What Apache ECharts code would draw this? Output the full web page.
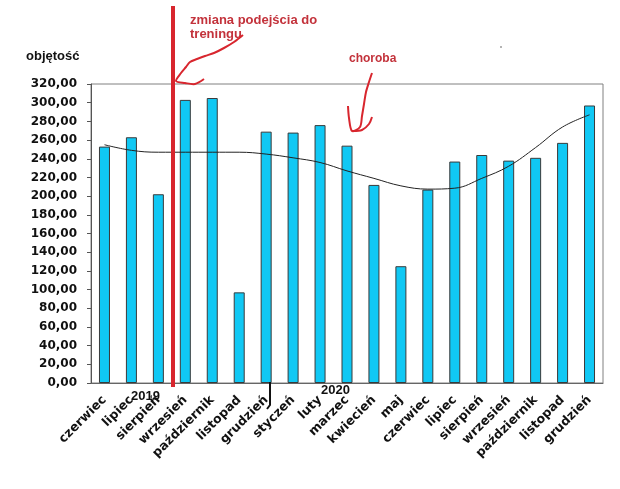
<!DOCTYPE html>
<html>
<head>
<meta charset="utf-8">
<script src="https://cdn.jsdelivr.net/npm/echarts@6/dist/echarts.min.js"></script>
<style>
* { margin: 0; padding: 0; }
#chart-container { width: 620px; height: 489px; background: #fff; }
</style>
</head>
<body>
<div id="chart-container"></div>
<script>
// miesiące: czerwiec 2019 .. grudzień 2020
const months = ['czerwiec', 'lipiec', 'sierpień', 'wrzesień', 'październik', 'listopad', 'grudzień',
  'styczeń', 'luty', 'marzec', 'kwiecień', 'maj',
  'czerwiec', 'lipiec', 'sierpień', 'wrzesień', 'październik', 'listopad', 'grudzień']
const volume = [253, 263, 202, 303, 305, 97, 269, 268, 276, 254, 212, 125, 207, 237, 244, 238, 241, 257, 297]
// linia trendu
const trend = [255, 249, 247, 247, 247, 247, 245, 241, 236, 227, 219, 211, 207.5, 208.5, 219, 232, 252, 274, 287]

const red = '#d8262e'
const redText = '#c3323b'
const bold = { fontWeight: 'bold', fontFamily: 'Liberation Sans', fontSize: 13, fill: '#111' }

const chart = echarts.init(document.getElementById('chart-container'))

chart.setOption({
  animation: false,
  grid: {
    left: 91,
    right: 17,
    top: 84,
    bottom: 106,
    show: true,
    borderColor: '#808080',
    borderWidth: 1
  },
  xAxis: {
    type: 'category',
    data: months,
    axisLine: { lineStyle: { color: '#666' } },
    axisTick: { show: false },
    axisLabel: {
      rotate: 45,
      interval: 0,
      margin: 15,
      color: '#111',
      fontWeight: 'bold',
      fontFamily: 'DejaVu Sans',
      fontSize: 12.5
    }
  },
  yAxis: {
    type: 'value',
    min: 0,
    max: 320,
    interval: 20,
    splitLine: { show: false },
    axisLine: { show: true, lineStyle: { color: '#555' } },
    axisTick: { show: true, length: 4, lineStyle: { color: '#555' } },
    axisLabel: {
      margin: 14,
      color: '#111',
      fontWeight: 'bold',
      fontFamily: 'DejaVu Sans',
      fontSize: 12,
      formatter: v => v.toFixed(2).replace('.', ',')
    }
  },
  series: [
    {
      type: 'bar',
      data: volume,
      barWidth: 11,
      itemStyle: { color: '#10c8f4', borderColor: '#3a3a3a', borderWidth: 1 }
    },
    {
      type: 'line',
      data: trend,
      smooth: 0.4,
      showSymbol: false,
      lineStyle: { color: '#222', width: 1 },
      z: 3
    }
  ],
  graphic: [
    { type: 'text', left: 26, top: 50, style: Object.assign({ text: 'objętość' }, bold) },
    { type: 'text', left: 131, top: 390, style: Object.assign({ text: '2019' }, bold) },
    { type: 'text', left: 321, top: 384, style: Object.assign({ text: '2020' }, bold) },
    // znacznik przełomu roku
    {
      type: 'polyline',
      shape: { points: [[270, 382], [270, 405], [267, 409]] },
      style: { stroke: '#111', lineWidth: 2, fill: null },
      z: 10
    },
    // czerwona linia: zmiana podejścia
    {
      type: 'line',
      shape: { x1: 173, y1: 6, x2: 173, y2: 387 },
      style: { stroke: red, lineWidth: 4 },
      z: 10
    },
    {
      type: 'text',
      left: 190,
      top: 13,
      style: {
        text: 'zmiana podejścia do\ntreningu',
        fill: redText,
        fontWeight: 'bold',
        fontFamily: 'Liberation Sans',
        fontSize: 13,
        lineHeight: 14
      }
    },
    {
      type: 'polyline',
      shape: {
        points: [[243, 35], [234, 42], [224, 48], [214, 53], [205, 56], [197, 59], [190, 62],
          [186, 67], [181, 73], [176, 81], [185, 83], [195, 84], [204, 79]],
        smooth: 0.3
      },
      style: { stroke: red, lineWidth: 2, fill: null },
      z: 10
    },
    {
      type: 'text',
      left: 349,
      top: 53,
      style: { text: 'choroba', fill: redText, fontWeight: 'bold', fontFamily: 'Liberation Sans', fontSize: 12 }
    },
    {
      type: 'polyline',
      shape: {
        points: [[372, 73], [369, 82], [366, 92], [364, 104], [362, 116], [360, 127], [352, 131],
          [349, 118], [348, 106]],
        smooth: 0.3
      },
      style: { stroke: red, lineWidth: 2, fill: null },
      z: 10
    },
    {
      type: 'polyline',
      shape: { points: [[352, 131], [362, 130], [369, 124], [372, 117]], smooth: 0.3 },
      style: { stroke: red, lineWidth: 2, fill: null },
      z: 10
    },
    { type: 'circle', shape: { cx: 501, cy: 47, r: 0.8 }, style: { fill: '#555' } }
  ]
})
</script>
</body>
</html>
